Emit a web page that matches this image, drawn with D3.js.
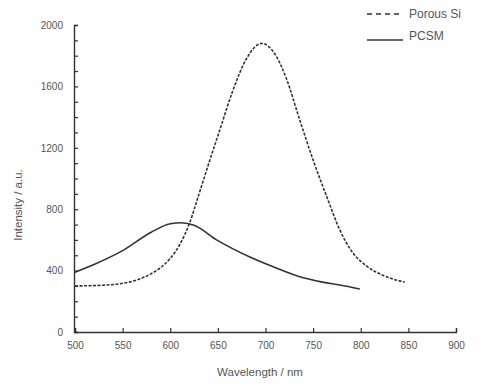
<!DOCTYPE html>
<html>
<head>
<meta charset="utf-8">
<script src="https://cdn.jsdelivr.net/npm/d3@7"></script>
<style>
  body { margin: 0; background: #fff; }
  svg text { font-family: "Liberation Sans", Arial, sans-serif; fill: #555; }
</style>
</head>
<body>
<div id="container"></div>
<script>
// data
var psiWavelength = [500, 530, 560, 580, 590, 600, 610, 620, 630, 640, 652, 665, 680, 696, 710, 722, 735, 750, 765, 778, 790, 806, 825, 846];
var psiIntensity  = [300, 305, 330, 380, 420, 480, 570, 705, 895, 1090, 1316, 1560, 1780, 1880, 1810, 1650, 1400, 1120, 870, 665, 530, 430, 365, 325];

var pcsmWavelength = [500, 520, 550, 580, 600, 612, 625, 650, 683, 710, 736, 760, 778, 799];
var pcsmIntensity  = [390, 440, 530, 650, 705, 712, 695, 595, 490, 420, 360, 325, 306, 280];

var xTicks = [500, 550, 600, 650, 700, 750, 800, 850, 900];
var yTicks = d3.range(0, 2001, 100);
var yLabels = [0, 400, 800, 1200, 1600, 2000];

var seriesNames = ["Porous Si", "PCSM"];

var width = 488, height = 386;

var svg = d3.select("#container").append("svg")
    .attr("width", width)
    .attr("height", height);

var x = d3.scaleLinear().domain([500, 900]).range([75, 456]);
var y = d3.scaleLinear().domain([0, 2000]).range([332, 25]);

// axes, ticks pointing inward
var yAxis = svg.append("g")
    .attr("transform", "translate(74,0)")
    .call(d3.axisLeft(y)
        .tickValues(yTicks)
        .tickSize(-4)
        .tickPadding(11)
        .tickFormat(function(d) { return yLabels.indexOf(d) >= 0 ? d : ""; }));

var xAxis = svg.append("g")
    .attr("transform", "translate(0,332)")
    .call(d3.axisBottom(x)
        .tickValues(xTicks)
        .tickSize(-4)
        .tickPadding(10)
        .tickFormat(d3.format("d")));

svg.selectAll(".domain").attr("stroke", "#333").attr("stroke-width", 1.4);
svg.selectAll(".tick line").attr("stroke", "#333").attr("stroke-width", 1.2);
svg.selectAll(".tick text").style("font-size", "10px").attr("fill", "#555");

// axis titles
svg.append("text")
    .attr("x", 260)
    .attr("y", 376)
    .style("text-anchor", "middle")
    .style("font-size", "11.5px")
    .text("Wavelength / nm");

svg.append("text")
    .attr("transform", "rotate(-90)")
    .attr("x", -205)
    .attr("y", 22)
    .style("text-anchor", "middle")
    .style("font-size", "11.5px")
    .text("Intensity / a.u.");

var line = d3.line()
    .x(function(d) { return x(d[0]); })
    .y(function(d) { return y(d[1]); })
    .curve(d3.curveMonotoneX);

var psi = psiWavelength.map(function(w, i) { return [w, psiIntensity[i]]; });
var pcsm = pcsmWavelength.map(function(w, i) { return [w, pcsmIntensity[i]]; });

svg.append("path")
    .datum(psi)
    .attr("d", line)
    .attr("fill", "none")
    .attr("stroke", "#333")
    .attr("stroke-width", 1.6)
    .attr("stroke-dasharray", "3,1.5");

svg.append("path")
    .datum(pcsm)
    .attr("d", line)
    .attr("fill", "none")
    .attr("stroke", "#333")
    .attr("stroke-width", 1.6);

// legend
var legend = svg.selectAll(".legend")
    .data(seriesNames)
  .enter().append("g")
    .attr("class", "legend")
    .attr("transform", function(d, i) { return "translate(0," + (14 + i * 22) + ")"; });

legend.append("line")
    .attr("x1", 367)
    .attr("x2", 403)
    .attr("y1", function(d, i) { return i == 0 ? 0 : 4; })
    .attr("y2", function(d, i) { return i == 0 ? 0 : 4; })
    .attr("stroke", "#333")
    .attr("stroke-width", 1.6)
    .attr("stroke-dasharray", function(d, i) { return i == 0 ? "5,4" : null; });

legend.append("text")
    .attr("x", 409)
    .attr("y", 0)
    .attr("dy", ".35em")
    .style("font-size", "12px")
    .text(function(d) { return d; });
</script>
</body>
</html>
